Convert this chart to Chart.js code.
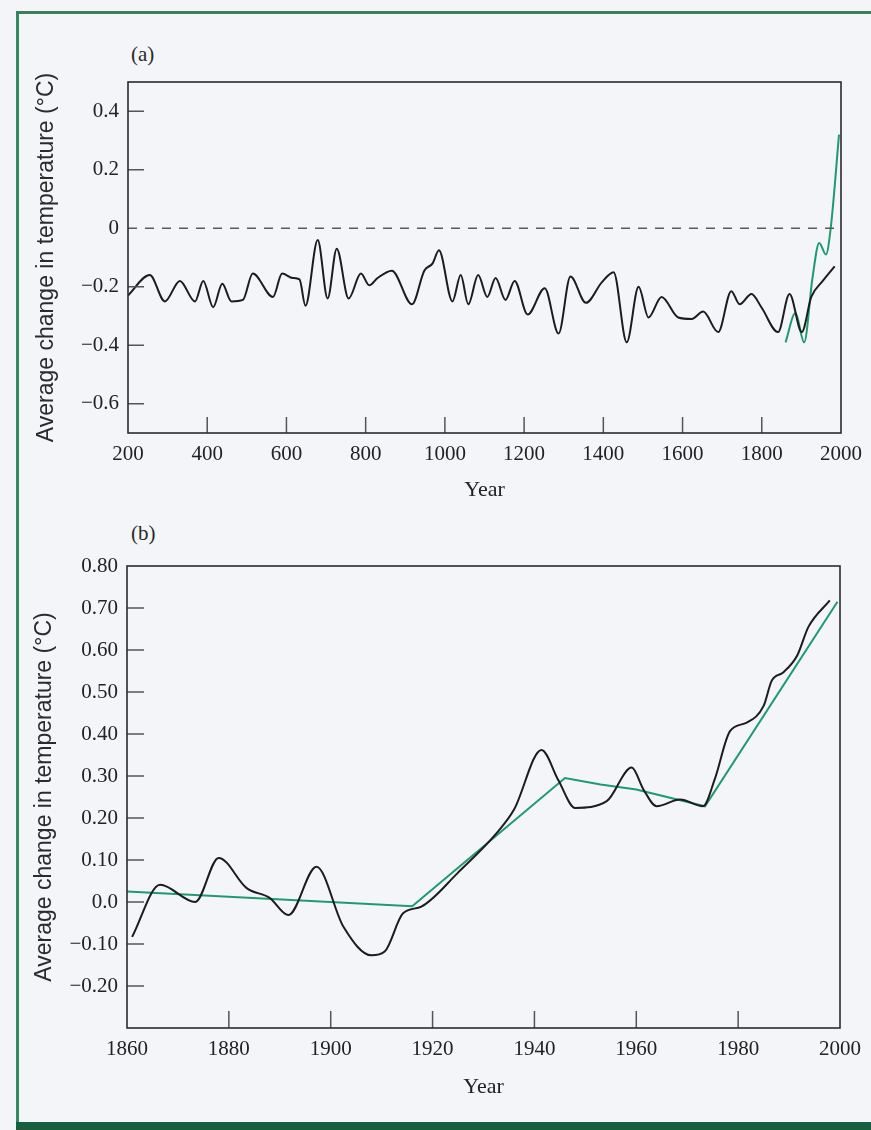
<!DOCTYPE html>
<html lang="en">
<head>
<meta charset="UTF-8">
<title>Average change in temperature</title>
<script src="https://cdn.jsdelivr.net/npm/chart.js"></script>
<style>
  body { margin: 0; background: #f3f5f8; }
  #page { position: relative; width: 871px; height: 1130px; overflow: hidden; background: #f3f5f8; }
  canvas { position: absolute; left: 0; }
  #chartA { top: 0; }
  #chartB { top: 520px; }
  .tag { position: absolute; left: 131px; font-family: 'Liberation Serif', serif; font-size: 21px; color: #2a2a2a; }
  .frame-left { position: absolute; left: 16px; top: 11px; width: 3px; height: 1112px; background: #2f8c5f; }
  .frame-top { position: absolute; left: 16px; right: 0; top: 11px; height: 3px; background: #3d7f5a; }
  .frame-bottom { position: absolute; left: 16px; right: 0; bottom: 0; height: 8px; background: #17603f; }
</style>
</head>
<body>
<div id="page">
  <div class="frame-left"></div>
  <div class="frame-top"></div>
  <div class="frame-bottom"></div>
  <div class="tag" style="top: 42px;">(a)</div>
  <div class="tag" style="top: 521px;">(b)</div>
  <canvas id="chartA" width="871" height="520"></canvas>
  <canvas id="chartB" width="871" height="610"></canvas>
</div>

<script>
  // panel (a): last ~1800 years
  const proxyYearsA = [200, 255, 293, 331, 369, 390, 415, 438, 461, 490, 515, 566, 589, 616, 633, 648, 679, 704, 727, 757,
    788, 809, 830, 866, 917, 948, 969, 985, 1019, 1040, 1059, 1084, 1107, 1128, 1153, 1176, 1209, 1252, 1287, 1317,
    1356, 1396, 1426, 1459, 1489, 1514, 1547, 1589, 1623, 1652, 1690, 1723, 1744, 1774, 1799, 1841, 1870, 1901, 1925,
    1954, 1984];
  const proxyTempA = [-0.23, -0.16, -0.25, -0.18, -0.25, -0.18, -0.27, -0.19, -0.25, -0.245, -0.155, -0.235, -0.155, -0.17,
    -0.175, -0.265, -0.04, -0.24, -0.07, -0.24, -0.155, -0.195, -0.17, -0.145, -0.26, -0.145, -0.12, -0.075, -0.25, -0.16,
    -0.26, -0.16, -0.235, -0.17, -0.245, -0.18, -0.295, -0.205, -0.36, -0.165, -0.255, -0.185, -0.15, -0.39, -0.2, -0.305,
    -0.235, -0.305, -0.31, -0.285, -0.355, -0.215, -0.26, -0.225, -0.27, -0.355, -0.225, -0.355, -0.235, -0.18, -0.13];
  const instrYearsA = [1860, 1885, 1907, 1928, 1945, 1962, 1974, 1995];
  const instrTempA = [-0.39, -0.29, -0.39, -0.17, -0.05, -0.09, 0.0, 0.32];
  const xTicksA = [200, 400, 600, 800, 1000, 1200, 1400, 1600, 1800, 2000];
  const yTicksA = [0.4, 0.2, 0, -0.2, -0.4, -0.6];
  const yLabelsA = ['0.4', '0.2', '0', '\u22120.2', '\u22120.4', '\u22120.6'];

  // panel (b): 1860-2000
  const yearsB = [1861, 1866.5, 1873.4, 1878, 1883.5, 1888, 1891.7, 1897.2, 1902.5, 1908, 1910.6, 1914.2, 1917.8, 1925,
    1933, 1936, 1941.4, 1944.7, 1948, 1954.2, 1959.1, 1961.4, 1964, 1968.6, 1973.1, 1975.4, 1978.4, 1981.7, 1985,
    1986.6, 1988.9, 1991.6, 1993.8, 1998];
  const tempB = [-0.083, 0.041, 0.0, 0.105, 0.033, 0.01, -0.031, 0.084, -0.059, -0.127, -0.118, -0.027, -0.011, 0.07,
    0.17, 0.22, 0.362, 0.29, 0.224, 0.24, 0.32, 0.268, 0.228, 0.244, 0.228, 0.292, 0.407, 0.427, 0.467, 0.527, 0.547,
    0.587, 0.655, 0.718];
  const trendYearsB = [1860, 1916, 1946, 1953, 1960, 1973.5, 1999.5];
  const trendB = [0.025, -0.01, 0.295, 0.28, 0.268, 0.228, 0.715];
  const xTicksB = [1860, 1880, 1900, 1920, 1940, 1960, 1980, 2000];
  const yTicksB = [0.8, 0.7, 0.6, 0.5, 0.4, 0.3, 0.2, 0.1, 0, -0.1, -0.2];
  const yLabelsB = ['0.80', '0.70', '0.60', '0.50', '0.40', '0.30', '0.20', '0.10', '0.0', '\u22120.10', '\u22120.20'];

  const yTitle = 'Average change in temperature (\u00b0C)';
  const black = '#1c1c1c';
  const green = '#1f9a6e';

  const pts = (xs, ys) => xs.map((x, i) => ({ x: x, y: ys[i] }));

  // box round the plot area plus the short inward tick marks
  const boxTicks = {
    id: 'boxTicks',
    afterDatasetsDraw(chart, args, opts) {
      const { ctx, chartArea: a, scales: { x, y } } = chart;
      ctx.save();
      ctx.strokeStyle = '#555';
      ctx.lineWidth = 1.5;
      ctx.beginPath();
      opts.yMarks.forEach(v => {
        const py = y.getPixelForValue(v);
        ctx.moveTo(a.left, py);
        ctx.lineTo(a.left + opts.len, py);
      });
      opts.xMarks.forEach(v => {
        const px = x.getPixelForValue(v);
        ctx.moveTo(px, a.bottom);
        ctx.lineTo(px, a.bottom - opts.len);
      });
      ctx.stroke();
      ctx.strokeStyle = '#2b2b2b';
      ctx.lineWidth = 1.6;
      ctx.strokeRect(a.left, a.top, a.right - a.left, a.bottom - a.top);
      ctx.restore();
    }
  };

  function axes(o) {
    return {
      x: {
        type: 'linear', min: o.xMin, max: o.xMax,
        grid: { display: false, drawTicks: false },
        border: { display: false },
        afterBuildTicks: s => { s.ticks = o.xTicks.map(v => ({ value: v })); },
        afterFit: s => { s.height = o.xHeight; },
        ticks: { autoSkip: false, maxRotation: 0, padding: 9, color: '#222',
          font: { family: 'Liberation Serif', size: 21 },
          callback: v => String(v) },
        title: { display: true, text: 'Year', color: '#222', padding: { top: 0, bottom: o.yearPad },
          font: { family: 'Liberation Serif', size: 22 } }
      },
      y: {
        type: 'linear', min: o.yMin, max: o.yMax,
        grid: { display: false, drawTicks: false },
        border: { display: false },
        afterBuildTicks: s => { s.ticks = o.yTicks.map(v => ({ value: v })); },
        afterFit: s => { s.width = o.yWidth; },
        ticks: { padding: 9, color: '#222', font: { family: 'Liberation Serif', size: 21 },
          callback: (v, i) => o.yLabels[i] },
        title: { display: true, text: yTitle, color: '#2b2b2b', padding: { top: o.titlePad, bottom: 0 },
          font: { family: 'Liberation Sans', size: 23 } }
      }
    };
  }

  new Chart(document.getElementById('chartA'), {
    type: 'line',
    data: {
      datasets: [
        { data: pts([xTicksA[0], xTicksA[xTicksA.length - 1]], [0, 0]), borderColor: '#5a5a5a', borderWidth: 1.6,
          borderDash: [9, 8], pointRadius: 0 },
        { data: pts(proxyYearsA, proxyTempA), borderColor: black, borderWidth: 2, pointRadius: 0,
          cubicInterpolationMode: 'monotone' },
        { data: pts(instrYearsA, instrTempA), borderColor: green, borderWidth: 2, pointRadius: 0,
          cubicInterpolationMode: 'monotone' }
      ]
    },
    options: {
      responsive: false, animation: false, devicePixelRatio: 1,
      layout: { padding: { top: 82, right: 28, left: 0, bottom: 0 } },
      plugins: {
        legend: { display: false }, tooltip: { enabled: false },
        boxTicks: { len: 16, yMarks: [0.4, 0.2, -0.2, -0.4, -0.6], xMarks: xTicksA.slice(1, -1) }
      },
      scales: axes({ xMin: 200, xMax: 2000, yMin: -0.7, yMax: 0.5, xTicks: xTicksA, yTicks: yTicksA,
        yLabels: yLabelsA, xHeight: 87, yWidth: 128, yearPad: 17, titlePad: 33 })
    },
    plugins: [boxTicks]
  });

  new Chart(document.getElementById('chartB'), {
    type: 'line',
    data: {
      datasets: [
        { data: pts(yearsB, tempB), borderColor: black, borderWidth: 2, pointRadius: 0,
          cubicInterpolationMode: 'monotone' },
        { data: pts(trendYearsB, trendB), borderColor: green, borderWidth: 2, pointRadius: 0, tension: 0 }
      ]
    },
    options: {
      responsive: false, animation: false, devicePixelRatio: 1,
      layout: { padding: { top: 46, right: 31, left: 0, bottom: 0 } },
      plugins: {
        legend: { display: false }, tooltip: { enabled: false },
        boxTicks: { len: 17, yMarks: yTicksB.slice(1), xMarks: xTicksB.slice(1, -1) }
      },
      scales: axes({ xMin: 1860, xMax: 2000, yMin: -0.3, yMax: 0.8, xTicks: xTicksB, yTicks: yTicksB,
        yLabels: yLabelsB, xHeight: 102, yWidth: 127, yearPad: 30, titlePad: 31 })
    },
    plugins: [boxTicks]
  });
</script>
</body>
</html>
